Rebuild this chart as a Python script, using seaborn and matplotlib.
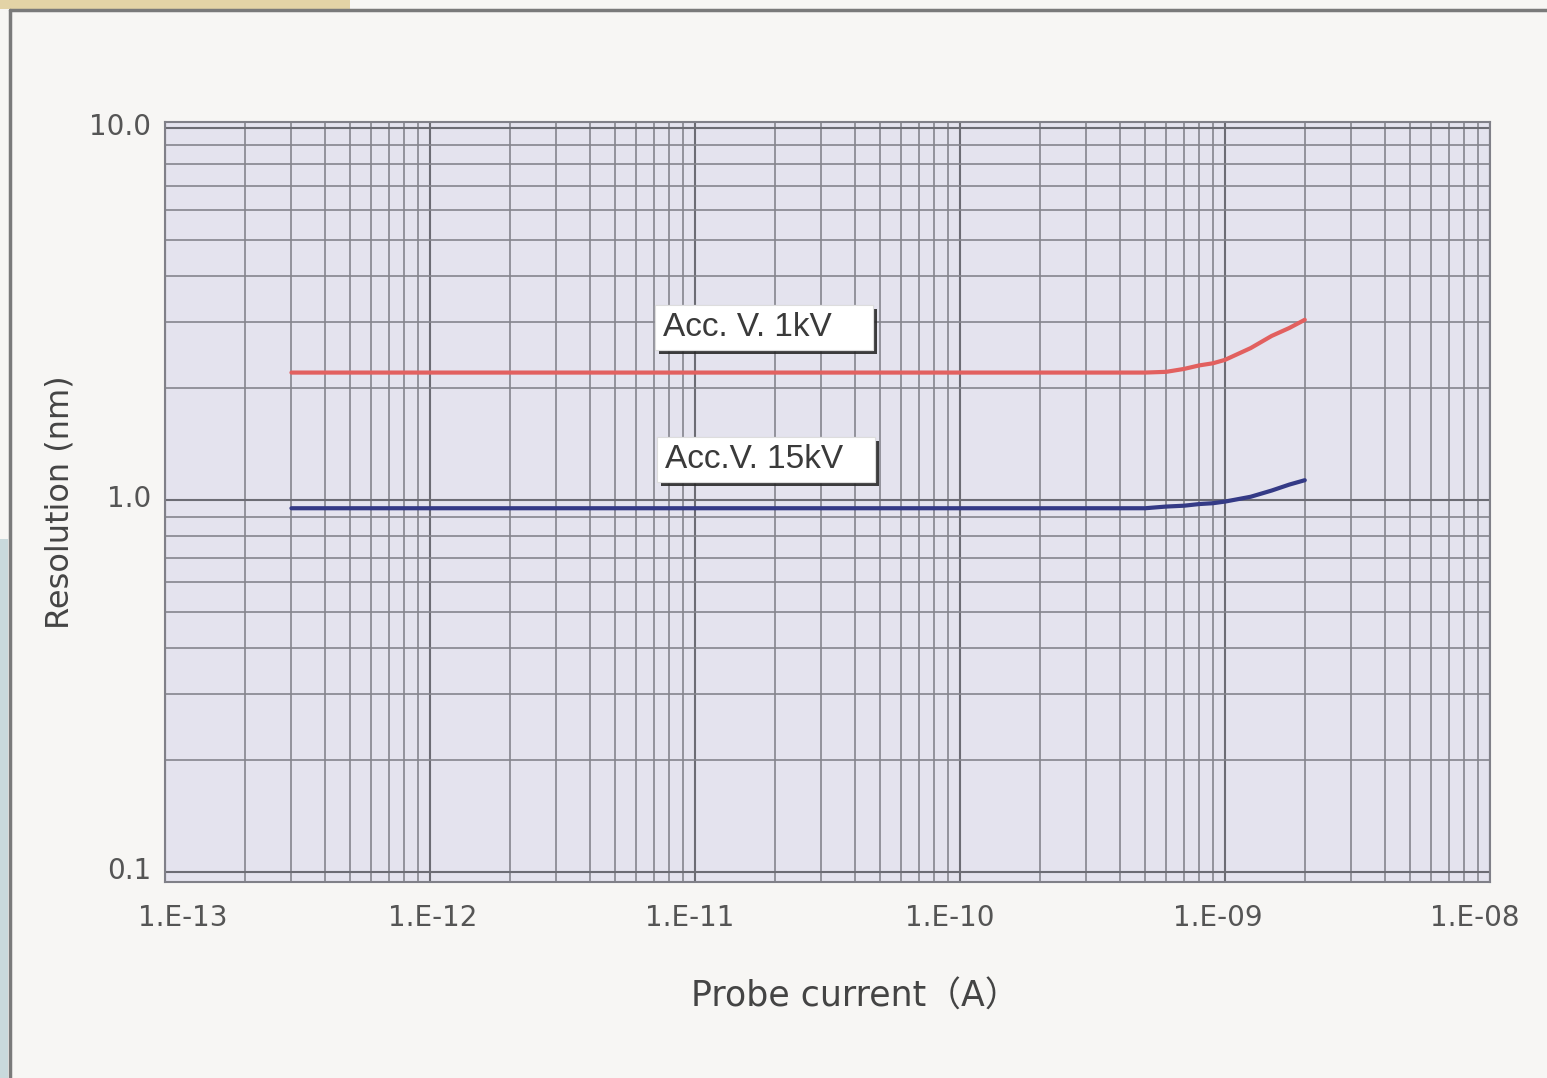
import matplotlib
matplotlib.use("Agg")
import matplotlib.pyplot as plt
from matplotlib import patheffects as pe
from matplotlib.patches import Rectangle
from matplotlib.lines import Line2D
from matplotlib.transforms import ScaledTranslation
from matplotlib.ticker import FixedLocator, FixedFormatter, LogLocator, NullFormatter
import pandas as pd
import seaborn as sns

# probe current (A) and resolution (nm)
current_1kv = [3e-13, 5e-10, 6e-10, 7e-10, 8e-10, 9e-10, 1e-9, 1.25e-9, 1.5e-9, 1.75e-9, 2e-9]
res_1kv = [2.2, 2.2, 2.21, 2.25, 2.3, 2.33, 2.38, 2.56, 2.76, 2.9, 3.05]

current_15kv = [3e-13, 5e-10, 6e-10, 7e-10, 8e-10, 9e-10, 1e-9, 1.25e-9, 1.5e-9, 1.75e-9, 2e-9]
res_15kv = [0.95, 0.95, 0.96, 0.965, 0.975, 0.98, 0.99, 1.02, 1.06, 1.1, 1.13]

x_ticks = [1e-13, 1e-12, 1e-11, 1e-10, 1e-9, 1e-8]
x_tick_labels = ["1.E-13", "1.E-12", "1.E-11", "1.E-10", "1.E-09", "1.E-08"]
y_ticks = [0.1, 1.0, 10.0]
y_tick_labels = ["0.1", "1.0", "10.0"]

series_labels = ["Acc. V. 1kV", "Acc.V. 15kV"]

sns.set_theme(style="white")
plt.rcParams["font.family"] = ["DejaVu Sans", "Noto Sans CJK JP"]

fig = plt.figure(figsize=(15.47, 10.78), dpi=100, facecolor="#f7f6f4")
ax = fig.add_axes([165 / 1547, 1 - 882 / 1078, 1325 / 1547, 760 / 1078])
ax.set_facecolor("#e4e3ee")

df1 = pd.DataFrame({"current": current_1kv, "res": res_1kv})
df15 = pd.DataFrame({"current": current_15kv, "res": res_15kv})
sns.lineplot(data=df1, x="current", y="res", ax=ax, color="#e2605f", lw=3, zorder=5)
sns.lineplot(data=df15, x="current", y="res", ax=ax, color="#343a86", lw=3, zorder=5)

ax.set_xscale("log")
ax.set_yscale("log")
ax.set_xlim(1e-13, 1e-8)
ax.set_ylim(10 ** -1.027, 10 ** 1.016)

ax.xaxis.set_major_locator(FixedLocator(x_ticks))
ax.xaxis.set_major_formatter(FixedFormatter(x_tick_labels))
ax.yaxis.set_major_locator(FixedLocator(y_ticks))
ax.yaxis.set_major_formatter(FixedFormatter(y_tick_labels))
for axis in (ax.xaxis, ax.yaxis):
    axis.set_minor_locator(LogLocator(base=10, subs=range(2, 10), numticks=20))
    axis.set_minor_formatter(NullFormatter())

ax.grid(True, which="major", color="#6c6c74", lw=1.5)
ax.grid(True, which="minor", color="#85858d", lw=1.2)
ax.set_axisbelow(True)
ax.tick_params(which="both", length=0)
ax.tick_params(axis="x", pad=16, labelsize=20, labelcolor="#555555")
ax.tick_params(axis="y", pad=10, labelsize=20, labelcolor="#555555")
for side in ax.spines.values():
    side.set_color("#808088")
    side.set_linewidth(1.5)

# the printed tick labels sit a little off the grid lines
x_shift_px = [18, 3, -5, -10, -7, -15]
for lab, dx in zip(ax.get_xticklabels(), x_shift_px):
    lab.set_transform(lab.get_transform() + ScaledTranslation(dx / 100, 0, fig.dpi_scale_trans))
for lab in ax.get_yticklabels():
    lab.set_transform(lab.get_transform() + ScaledTranslation(0, 4 / 100, fig.dpi_scale_trans))

ax.set_xlabel("Probe current（A）", fontsize=25, color="#444444")
ax.xaxis.set_label_coords(0.521, -0.128)
ax.set_ylabel("Resolution (nm)", fontsize=23, color="#444444", labelpad=10)

# label boxes with a dark drop shadow
box_specs = [(0.370, 0.700), (0.3713, 0.526)]
for (bx, by), text in zip(box_specs, series_labels):
    rect = Rectangle((bx, by), 0.1645, 0.0592, transform=ax.transAxes,
                     facecolor="white", edgecolor="#dddddd", lw=0.8, zorder=6)
    rect.set_path_effects([pe.withSimplePatchShadow(offset=(3, -3),
                                                    shadow_rgbFace="#2a2a2a", alpha=0.9),
                           pe.Normal()])
    ax.add_patch(rect)
    ax.text(bx + 0.006, by + 0.0296, text, transform=ax.transAxes,
            ha="left", va="center", fontsize=24, color="#3a3a3a",
            family="Liberation Sans", zorder=7)

# outer page frame of the scan
fig.patches.append(Rectangle((0, 1 - 9 / 1078), 350 / 1547, 9 / 1078,
                             transform=fig.transFigure, facecolor="#e3d3a6",
                             edgecolor="none", zorder=0))
fig.patches.append(Rectangle((0, 0), 8 / 1547, 0.5, transform=fig.transFigure,
                             facecolor="#c9d9dc", edgecolor="none", zorder=0))
fig.lines.append(Line2D([10 / 1547, 1], [1 - 10 / 1078, 1 - 10 / 1078],
                        transform=fig.transFigure, color="#7a7a7a", lw=2.5))
fig.lines.append(Line2D([10 / 1547, 10 / 1547], [0, 1 - 10 / 1078],
                        transform=fig.transFigure, color="#7a7a7a", lw=2.5))

fig.savefig("out.png", dpi=100, facecolor=fig.get_facecolor())
